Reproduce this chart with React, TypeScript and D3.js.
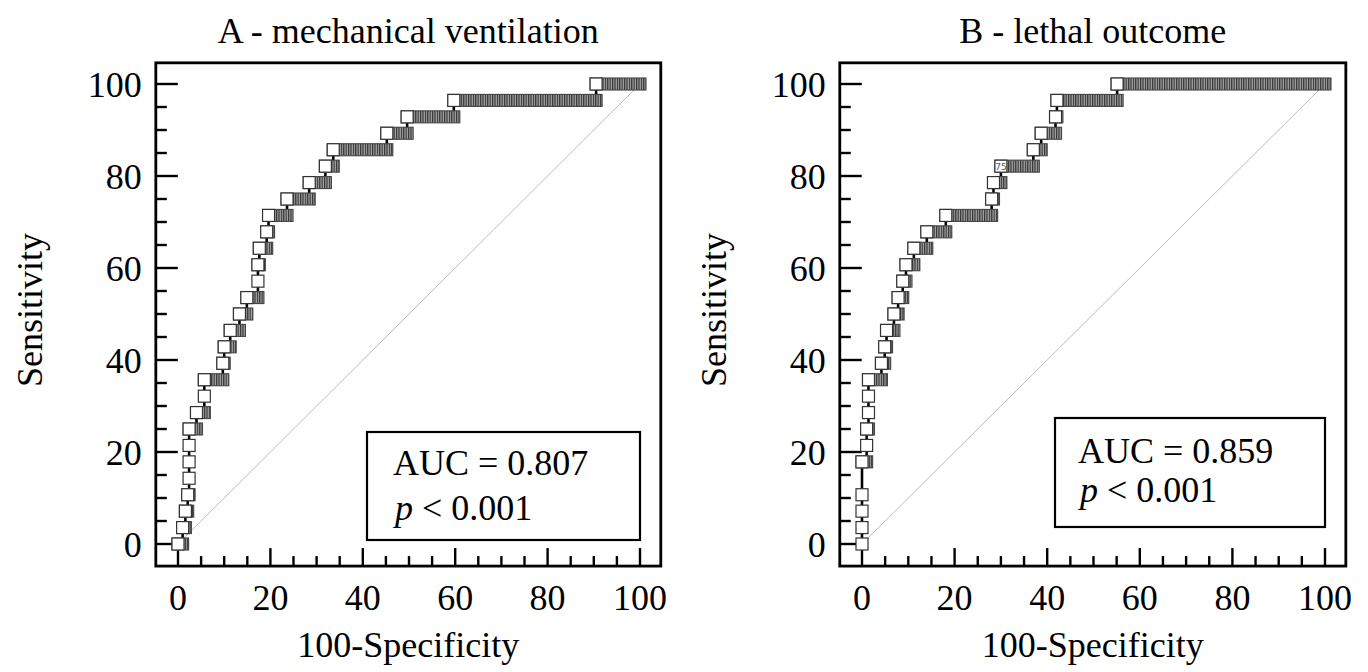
import React, { useEffect, useRef } from 'react';
import * as d3 from 'd3';

// ROC rows: sensitivity level and the 100-specificity where that row starts
const sensA = [0, 3.57, 7.14, 10.71, 14.29, 17.86, 21.43, 25, 28.57, 32.14, 35.71, 39.29, 42.86, 46.43, 50,
  53.57, 57.14, 60.71, 64.29, 67.86, 71.43, 75, 78.57, 82.14, 85.71, 89.29, 92.86, 96.43, 100];
const fprA = [0, 1.0, 1.6, 2.1, 2.4, 2.4, 2.4, 2.4, 4.0, 5.7, 5.7, 9.7, 10.0, 11.3, 13.3,
  14.9, 17.3, 17.3, 17.6, 19.2, 19.6, 23.6, 28.4, 31.9, 33.6, 45.2, 49.6, 59.7, 90.5];

const sensB = [0, 3.57, 7.14, 10.71, 17.86, 21.43, 25, 28.57, 32.14, 35.71, 39.29, 42.86, 46.43, 50,
  53.57, 57.14, 60.71, 64.29, 67.86, 71.43, 75, 78.57, 82.14, 85.71, 89.29, 92.86, 96.43, 100];
const fprB = [0, 0, 0, 0, 0, 1.0, 1.0, 1.4, 1.4, 1.4, 4.2, 4.9, 5.3, 6.9,
  7.8, 8.8, 9.5, 11.2, 14.0, 18.1, 28.0, 28.4, 30.0, 37.0, 38.7, 41.8, 42.1, 55.1];

const tickValues = [0, 20, 40, 60, 80, 100];
const minorTicks = [0, 5, 10, 15, 20, 25, 30, 35, 40, 45, 50, 55, 60, 65, 70, 75, 80, 85, 90, 95, 100];

const panels = [
  {
    id: 'A', title: 'A - mechanical ventilation', fpr: fprA, sens: sensA, auc: '0.807', p: '0.001',
    x0: 178, x1: 640, box: { x: 367, y: 432, w: 273, h: 108, tx: 393, b1: 475, b2: 520 }, mark: null,
  },
  {
    id: 'B', title: 'B - lethal outcome', fpr: fprB, sens: sensB, auc: '0.859', p: '0.001',
    x0: 862, x1: 1325, box: { x: 1055, y: 418, w: 270, h: 109, tx: 1078, b1: 463, b2: 502 }, mark: { row: 22, text: '75' },
  },
];

const FONT = '"Liberation Serif", "Times New Roman", serif';

const App = () => {
  const svgRef = useRef(null);

  useEffect(() => {
    const svg = d3.select(svgRef.current);
    svg.selectAll('*').remove();

    const defs = svg.append('defs');
    const pat = defs.append('pattern')
      .attr('id', 'stripes')
      .attr('patternUnits', 'userSpaceOnUse')
      .attr('width', 2.4)
      .attr('height', 12);
    pat.append('rect').attr('width', 2.4).attr('height', 12).attr('fill', '#a6a6a6');
    pat.append('rect').attr('width', 1.2).attr('height', 12).attr('fill', '#333');

    panels.forEach(pn => {
      const x = d3.scaleLinear().domain([0, 100]).range([pn.x0, pn.x1]);
      const y = d3.scaleLinear().domain([0, 100]).range([544, 84]);
      const g = svg.append('g').attr('font-family', FONT);

      const fl = x(-4.8), fr = x(104.5), ft = y(104.6), fb = y(-4.8);

      // title
      g.append('text')
        .attr('x', (fl + fr) / 2).attr('y', 43)
        .attr('text-anchor', 'middle').attr('font-size', 36)
        .text(pn.title);

      // diagonal reference line
      g.append('line')
        .attr('x1', x(0)).attr('y1', y(0)).attr('x2', x(100)).attr('y2', y(100))
        .attr('stroke', '#bcbcbc').attr('stroke-width', 1);

      // frame
      g.append('rect')
        .attr('x', fl).attr('y', ft).attr('width', fr - fl).attr('height', fb - ft)
        .attr('fill', 'none').attr('stroke', '#000').attr('stroke-width', 2.8);

      // ticks
      minorTicks.forEach(v => {
        const major = v % 20 === 0;
        g.append('line')
          .attr('x1', fl).attr('x2', fl + (major ? 22 : 11))
          .attr('y1', y(v)).attr('y2', y(v))
          .attr('stroke', '#000').attr('stroke-width', 2.4);
        g.append('line')
          .attr('x1', x(v)).attr('x2', x(v))
          .attr('y1', fb).attr('y2', fb - (major ? 18 : 10))
          .attr('stroke', '#000').attr('stroke-width', 2.4);
      });

      tickValues.forEach(v => {
        g.append('text')
          .attr('x', fl - 14).attr('y', y(v) + 12.5)
          .attr('text-anchor', 'end').attr('font-size', 36)
          .text(v);
        g.append('text')
          .attr('x', x(v)).attr('y', 610)
          .attr('text-anchor', 'middle').attr('font-size', 36)
          .text(v);
      });

      // axis titles
      g.append('text')
        .attr('transform', `translate(${fl - 114},310) rotate(-90)`)
        .attr('text-anchor', 'middle').attr('font-size', 36)
        .text('Sensitivity');
      g.append('text')
        .attr('x', (fl + fr) / 2).attr('y', 657)
        .attr('text-anchor', 'middle').attr('font-size', 36)
        .text('100-Specificity');

      // ROC curve
      const n = pn.fpr.length;
      const rows = pn.fpr.map((f, i) => ({ f, s: pn.sens[i], end: i < n - 1 ? pn.fpr[i + 1] : 100 }));

      rows.slice(0, n - 1).forEach((r, i) => {
        g.append('line')
          .attr('x1', x(r.end)).attr('x2', x(r.end))
          .attr('y1', y(r.s)).attr('y2', y(rows[i + 1].s))
          .attr('stroke', '#000').attr('stroke-width', 2.6);
      });

      rows.filter(r => r.end - r.f > 0.05).forEach(r => {
        g.append('rect')
          .attr('x', x(r.f) - 6).attr('y', y(r.s) - 6)
          .attr('width', x(r.end) - x(r.f) + 12).attr('height', 12)
          .attr('fill', 'url(#stripes)').attr('stroke', '#444').attr('stroke-width', 1.1);
      });

      rows.forEach(r => {
        g.append('rect')
          .attr('x', x(r.f) - 6).attr('y', y(r.s) - 6)
          .attr('width', 12).attr('height', 12)
          .attr('fill', '#fff').attr('stroke', '#333').attr('stroke-width', 1.2);
      });

      if (pn.mark) {
        const r = rows[pn.mark.row];
        g.append('text')
          .attr('x', x(r.f)).attr('y', y(r.s) + 3.5)
          .attr('text-anchor', 'middle').attr('font-size', 9)
          .attr('font-family', 'DejaVu Sans, sans-serif').attr('fill', '#555')
          .text(pn.mark.text);
      }

      // AUC box
      const b = pn.box;
      g.append('rect')
        .attr('x', b.x).attr('y', b.y).attr('width', b.w).attr('height', b.h)
        .attr('fill', '#fff').attr('stroke', '#000').attr('stroke-width', 2.2);
      g.append('text')
        .attr('x', b.tx).attr('y', b.b1).attr('font-size', 36)
        .text(`AUC = ${pn.auc}`);
      const pt = g.append('text')
        .attr('x', b.tx + 2).attr('y', b.b2).attr('font-size', 36);
      pt.append('tspan').attr('font-style', 'italic').text('p');
      pt.append('tspan').text(` < ${pn.p}`);
    });
  }, []);

  return (
    <svg
      ref={svgRef}
      width={1368}
      height={672}
      style={{ position: 'absolute', left: 0, top: 0, background: '#fff' }}
    />
  );
};

export default App;
